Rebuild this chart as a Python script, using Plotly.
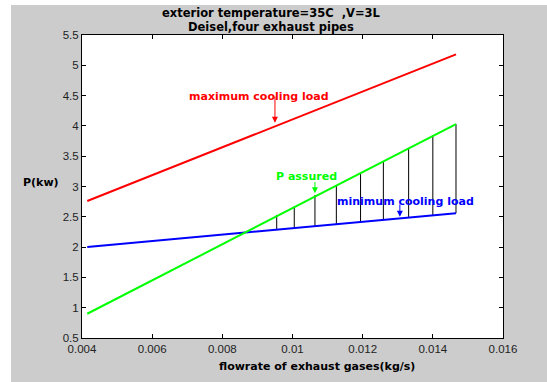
import plotly.graph_objects as go

# ---- data ----
flow_ends = [0.00415, 0.01466]
max_load = [2.76, 5.18]
min_load = [2.00, 2.56]
p_assured = [0.90, 4.03]

hatch_flow = [0.00955, 0.01005, 0.01064, 0.01125, 0.01194, 0.01259, 0.01331, 0.01400, 0.01466]
hatch_top = [2.53, 2.67, 2.86, 3.02, 3.21, 3.41, 3.63, 3.84, 4.03]
hatch_bottom = [2.30, 2.32, 2.35, 2.38, 2.41, 2.45, 2.48, 2.52, 2.56]

x_ticks = [0.004, 0.006, 0.008, 0.010, 0.012, 0.014, 0.016]
y_ticks = [0.5, 1, 1.5, 2, 2.5, 3, 3.5, 4, 4.5, 5, 5.5]

title_lines = ["exterior temperature=35C&nbsp; ,V=3L", "Deisel,four exhaust pipes"]
x_label = "flowrate of exhaust gases(kg/s)"
y_label = "P(kw)"

# ---- layout geometry (pixels) ----
W, H = 547, 382
L, R, T, B = 82, 44, 35, 44
PW, PH = W - L - R, H - T - B


def px(x):
    return (x - L) / PW


def py(y):
    return (H - B - y) / PH


FONT = "Liberation Sans, Arial, sans-serif"
BFONT = "DejaVu Sans, sans-serif"

fig = go.Figure()

# hatch lines
hx, hy = [], []
for xv, t, b in zip(hatch_flow, hatch_top, hatch_bottom):
    hx += [xv, xv, None]
    hy += [b, t, None]
fig.add_trace(go.Scatter(x=hx, y=hy, mode="lines",
                         line=dict(color="black", width=1), hoverinfo="skip"))

fig.add_trace(go.Scatter(x=flow_ends, y=max_load, mode="lines",
                         line=dict(color="#ff0000", width=2)))
fig.add_trace(go.Scatter(x=flow_ends, y=min_load, mode="lines",
                         line=dict(color="#0000ff", width=2)))
fig.add_trace(go.Scatter(x=flow_ends, y=p_assured, mode="lines",
                         line=dict(color="#00ff00", width=2)))

annotations = []
# title (two lines)
for line_text, ypix in zip(title_lines, [13, 26.5]):
    annotations.append(dict(xref="paper", yref="paper", x=px(271), y=py(ypix),
                            text="<b>" + line_text + "</b>",
                            showarrow=False, xanchor="center", yanchor="middle",
                            font=dict(family=BFONT, size=11.5, color="black")))
annotations.append(dict(xref="paper", yref="paper", x=px(317), y=py(366),
                        text="<b>" + x_label + "</b>", showarrow=False,
                        xanchor="center", yanchor="middle",
                        font=dict(family=BFONT, size=11, color="black")))
annotations.append(dict(xref="paper", yref="paper", x=px(41), y=py(182),
                        text="<b>" + y_label + "</b>", showarrow=False,
                        xanchor="center", yanchor="middle",
                        font=dict(family=BFONT, size=11, color="black")))

labels = [
    ("maximum cooling load", "#ff0000", 0.009045, 4.48, 0.0095, 4.51, 4.05),
    ("P assured", "#00ff00", 0.0104, 3.157, 0.01064, 3.10, 2.89),
    ("minimum cooling load", "#0000ff", 0.01321, 2.76, 0.01306, 2.73, 2.50),
]
for txt, col, tx, ty, ax_, tail, tip in labels:
    annotations.append(dict(x=tx, y=ty, xref="x", yref="y", text="<b>" + txt + "</b>",
                            showarrow=False, xanchor="center", yanchor="middle",
                            font=dict(family=BFONT, size=11, color=col)))
    annotations.append(dict(x=ax_, y=tip, xref="x", yref="y", ax=ax_, ay=tail,
                            axref="x", ayref="y", text="", showarrow=True,
                            arrowhead=2, arrowsize=1.2, arrowwidth=1, arrowcolor=col))

shapes = [
    dict(type="rect", xref="paper", yref="paper", x0=px(0), x1=px(11), y0=py(H), y1=py(0),
         fillcolor="white", line=dict(width=0), layer="below"),
    dict(type="rect", xref="paper", yref="paper", x0=px(0), x1=px(W), y0=py(5), y1=py(0),
         fillcolor="white", line=dict(width=0), layer="below"),
]

axis_common = dict(showgrid=False, zeroline=False, showline=True, linecolor="black",
                   linewidth=1, mirror="ticks", ticks="inside", ticklen=4,
                   tickcolor="black", tickfont=dict(family=FONT, size=11.5, color="#222"))

fig.update_layout(
    width=W, height=H,
    margin=dict(l=L, r=R, t=T, b=B),
    paper_bgcolor="#cccccc", plot_bgcolor="white",
    showlegend=False,
    xaxis=dict(range=[0.004, 0.016], tickvals=x_ticks,
               ticktext=[f"{v:g}" for v in x_ticks], **axis_common),
    yaxis=dict(range=[0.5, 5.5], tickvals=y_ticks,
               ticktext=[f"{v:g}" for v in y_ticks], **axis_common),
    annotations=annotations,
    shapes=shapes,
)

fig.write_html("out.html")
